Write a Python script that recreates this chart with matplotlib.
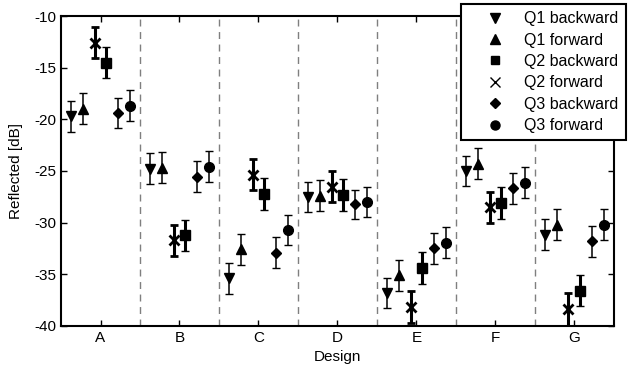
import numpy as np
import matplotlib
matplotlib.use('Agg')
import matplotlib.pyplot as plt
from matplotlib.lines import Line2D

plt.rcParams['font.family'] = ['Liberation Sans', 'DejaVu Sans']
plt.rcParams['axes.unicode_minus'] = False

designs = ['A', 'B', 'C', 'D', 'E', 'F', 'G']

# mean values per series (dB)
q1_back = [-19.7, -24.8, -35.4, -27.5, -36.8, -25.0, -31.2]
q1_fwd = [-18.95, -24.7, -32.6, -27.4, -35.1, -24.3, -30.2]
q2_fwd = [-12.6, -31.7, -25.35, -26.55, -38.2, -28.5, -38.4]
q2_back = [-14.5, -31.25, -27.25, -27.35, -34.4, -28.15, -36.6]
q3_back = [-19.4, -25.55, -32.95, -28.25, -32.5, -26.7, -31.8]
q3_fwd = [-18.7, -24.6, -30.7, -28.0, -31.95, -26.15, -30.2]

# error half-widths (dB)
q1_back_err = [1.5, 1.5, 1.5, 1.45, 1.45, 1.45, 1.5]
q1_fwd_err = [1.5, 1.5, 1.5, 1.5, 1.5, 1.5, 1.5]
q2_fwd_err = [1.5, 1.5, 1.5, 1.5, 1.55, 1.5, 1.6]
q2_back_err = [1.5, 1.5, 1.55, 1.55, 1.55, 1.55, 1.5]
q3_back_err = [1.47, 1.47, 1.5, 1.45, 1.5, 1.5, 1.5]
q3_fwd_err = [1.5, 1.5, 1.47, 1.45, 1.52, 1.52, 1.5]

x = np.arange(1, len(designs) + 1)

series = [
    # values, errors, offset, marker, bold
    (q1_back, q1_back_err, -0.375, 'v', False),
    (q1_fwd, q1_fwd_err, -0.225, '^', False),
    (q2_fwd, q2_fwd_err, -0.075, 'x', True),
    (q2_back, q2_back_err, 0.075, 's', True),
    (q3_back, q3_back_err, 0.225, 'D', False),
    (q3_fwd, q3_fwd_err, 0.375, 'o', False),
]
msizes = {'v': 7.5, '^': 7.5, 'x': 7, 's': 6.5, 'D': 5.5, 'o': 7}

fig = plt.figure(figsize=(6.29, 3.67), dpi=100)
ax = fig.add_axes([0.097, 0.1125, 0.879, 0.8435])

for i in range(len(designs) - 1):
    ax.axvline(x[i] + 0.5, color='#7f7f7f', linestyle=(0, (5, 4)), linewidth=1, zorder=1)

for vals, errs, off, mk, bold in series:
    ax.errorbar(x + off, vals, yerr=errs, fmt=mk, color='k', ms=msizes[mk],
                mew=2 if mk == 'x' else 1, elinewidth=2.2 if bold else 1.1,
                capsize=3.2, capthick=2.2 if bold else 1.1, zorder=3)

ax.set_xlim(0.5, 7.5)
ax.set_ylim(-40, -10)
ax.set_xticks(x)
ax.set_xticklabels(designs)
ax.set_yticks([-40, -35, -30, -25, -20, -15, -10])
ax.tick_params(direction='in', top=True, right=True, length=4, labelsize=11, width=1)
for s in ax.spines.values():
    s.set_linewidth(1.5)
ax.set_xlabel('Design', fontsize=11, labelpad=4)
ax.set_ylabel('Reflected [dB]', fontsize=11, labelpad=8)

# legend (markers only)
order = [('v', 'Q1 backward'), ('^', 'Q1 forward'), ('s', 'Q2 backward'),
         ('x', 'Q2 forward'), ('D', 'Q3 backward'), ('o', 'Q3 forward')]
handles = [Line2D([], [], linestyle='none', marker=mk, color='k',
                  ms=msizes[mk] - 0.5, mew=1) for mk, lab in order]
leg = fig.legend(handles, [lab for mk, lab in order], loc='upper left',
                 bbox_to_anchor=(0.733, 0.989), borderaxespad=0, fontsize=11.5,
                 frameon=True, fancybox=False, edgecolor='k', framealpha=1,
                 labelspacing=0.4, handletextpad=0.1, borderpad=0.45,
                 handlelength=3.4)
leg.get_frame().set_linewidth(1.5)

fig.savefig('out.png', dpi=100)
